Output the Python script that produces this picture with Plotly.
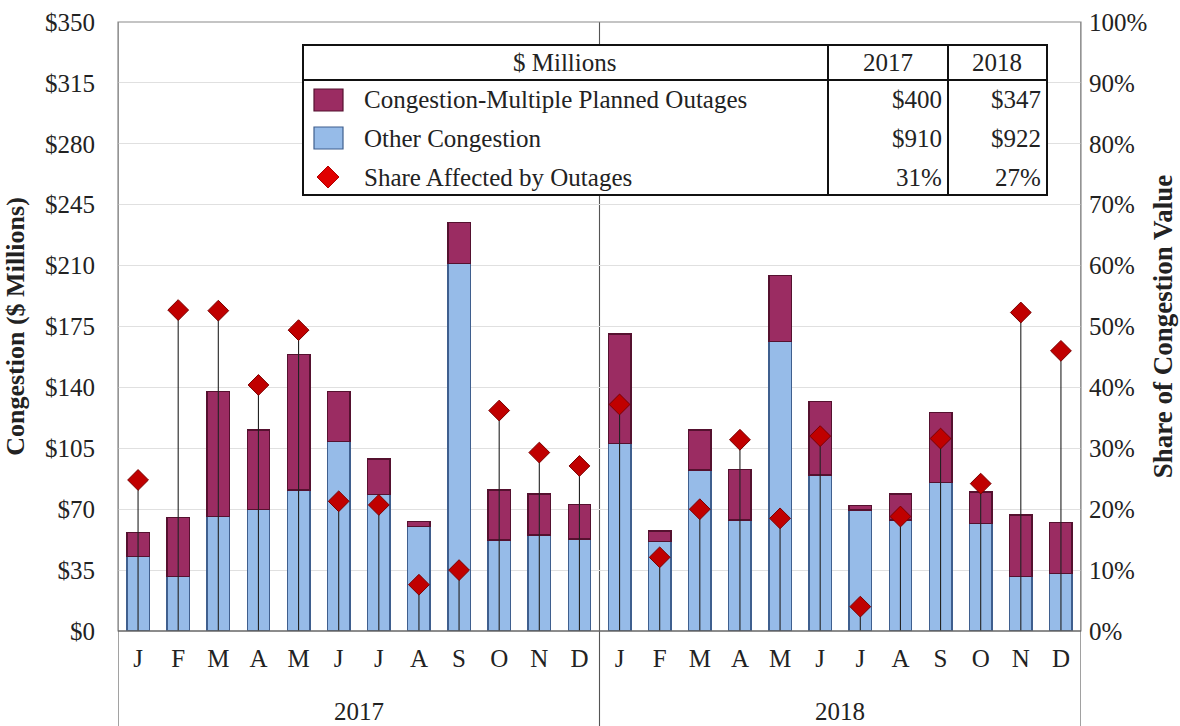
import plotly.graph_objects as go

months = ["J", "F", "M", "A", "M", "J", "J", "A", "S", "O", "N", "D"]
years = ["2017", "2018"]
tick_labels = months + months

other_congestion = [42.7, 31.2, 65.7, 69.9, 81.0, 108.8, 78.5, 60.0, 211.3, 52.3, 55.2, 52.9,
                    107.9, 51.3, 92.5, 63.8, 166.3, 89.7, 69.5, 63.8, 85.4, 61.9, 31.2, 33.1]
outage_congestion = [13.8, 34.1, 71.8, 45.6, 78.0, 28.7, 20.4, 2.8, 23.4, 28.7, 23.5, 19.9,
                     62.8, 6.2, 23.0, 29.1, 38.1, 42.1, 2.5, 14.9, 40.3, 18.1, 35.5, 29.1]
share_affected = [0.248, 0.527, 0.526, 0.404, 0.494, 0.213, 0.207, 0.076, 0.100, 0.362, 0.293, 0.271,
                  0.372, 0.121, 0.200, 0.314, 0.185, 0.320, 0.040, 0.188, 0.316, 0.242, 0.523, 0.460]

legend_names = ["Congestion-Multiple Planned Outages", "Other Congestion", "Share Affected by Outages"]
totals_2017 = ["$400", "$910", "31%"]
totals_2018 = ["$347", "$922", "27%"]

FONT = "Liberation Serif"
FS = 25
BLUE = "#96bbe8"
BLUE_EDGE = "#3f5f8e"
MAROON = "#9b2c62"
MAROON_EDGE = "#55112f"

x = list(range(len(tick_labels)))

fig = go.Figure()
fig.add_trace(go.Bar(x=x, y=other_congestion, marker=dict(color=BLUE, line=dict(color=BLUE_EDGE, width=1.4)),
                     width=0.56, name=legend_names[1], showlegend=False))
fig.add_trace(go.Bar(x=x, y=outage_congestion, marker=dict(color=MAROON, line=dict(color=MAROON_EDGE, width=1.4)),
                     width=0.56, name=legend_names[0], showlegend=False))
fig.add_trace(go.Scatter(x=x, y=share_affected, yaxis="y2", mode="markers",
                         marker=dict(symbol="diamond", size=16, color="#c00000",
                                     line=dict(color="#7a0000", width=1)),
                         error_y=dict(type="data", symmetric=False, array=[0] * len(x),
                                      arrayminus=share_affected, color="#222222", thickness=1.1, width=0),
                         name=legend_names[2], showlegend=False))

W, H = 1180, 726
L, R, T, B = 118, 1081, 22, 631


def px(v):
    return (v - L) / (R - L)


def py(v):
    return (B - v) / (B - T)


fig.update_layout(
    width=W, height=H, barmode="stack", plot_bgcolor="white", paper_bgcolor="white",
    margin=dict(l=L, r=W - R, t=T, b=H - B, autoexpand=False),
    font=dict(family=FONT, size=FS, color="#222222"),
    xaxis=dict(range=[-0.5, 23.5], tickmode="array", tickvals=x, ticktext=tick_labels, automargin=False,
               showgrid=False, showline=False, zeroline=False, ticks="", ticklabelstandoff=10,
               tickfont=dict(size=FS, family=FONT)),
    yaxis=dict(range=[0, 350], dtick=35, tickprefix="$", showgrid=True, gridcolor="#e0e0e0", automargin=False,
               zeroline=False, showline=False, ticks="", ticklabelstandoff=22,
               title=dict(text="<b>Congestion ($ Millions)</b>", font=dict(size=26, family=FONT), standoff=12),
               tickfont=dict(size=FS, family=FONT)),
    yaxis2=dict(range=[0, 1], dtick=0.1, tickformat=".0%", overlaying="y", side="right", automargin=False,
                showgrid=False, zeroline=False, showline=False, ticks="", ticklabelstandoff=7,
                title=dict(text="<b>Share of Congestion Value</b>", font=dict(size=27, family=FONT), standoff=6),
                tickfont=dict(size=FS, family=FONT)),
)

shapes = []
# plot frame
shapes.append(dict(type="rect", xref="paper", yref="paper", x0=0, x1=1, y0=0, y1=1,
                   line=dict(color="#8a8a8a", width=1.2), layer="above"))
# baseline
shapes.append(dict(type="line", xref="paper", yref="paper", x0=0, x1=1, y0=0, y1=0,
                   line=dict(color="#555555", width=1.2), layer="above"))
# vertical separators extending below axis
for xv in [-0.5, 11.5, 23.5]:
    shapes.append(dict(type="line", xref="x", yref="paper", x0=xv, x1=xv, y0=py(H), y1=1,
                       line=dict(color="#555555", width=1.1), layer="below"))

# legend table
tl, tr, tt, tb = 303, 1047, 45, 195
shapes.append(dict(type="rect", xref="paper", yref="paper", x0=px(tl), x1=px(tr), y0=py(tb), y1=py(tt),
                   line=dict(color="#111111", width=2), fillcolor="white", layer="above"))
shapes.append(dict(type="line", xref="paper", yref="paper", x0=px(tl), x1=px(tr), y0=py(80), y1=py(80),
                   line=dict(color="#111111", width=2), layer="above"))
for xv in [828, 948]:
    shapes.append(dict(type="line", xref="paper", yref="paper", x0=px(xv), x1=px(xv), y0=py(tb), y1=py(tt),
                       line=dict(color="#111111", width=2), layer="above"))
row_y = [100, 138, 177]
shapes.append(dict(type="rect", xref="paper", yref="paper", x0=px(314), x1=px(343),
                   y0=py(row_y[0] + 11), y1=py(row_y[0] - 11),
                   fillcolor=MAROON, line=dict(color=MAROON_EDGE, width=1.2), layer="above"))
shapes.append(dict(type="rect", xref="paper", yref="paper", x0=px(314), x1=px(343),
                   y0=py(row_y[1] + 11), y1=py(row_y[1] - 11),
                   fillcolor=BLUE, line=dict(color=BLUE_EDGE, width=1.2), layer="above"))
cx, cy, d = 328, row_y[2], 11
shapes.append(dict(type="path", xref="paper", yref="paper",
                   path=f"M {px(cx - d)} {py(cy)} L {px(cx)} {py(cy - d)} L {px(cx + d)} {py(cy)} L {px(cx)} {py(cy + d)} Z",
                   fillcolor="#e00000", line=dict(color="#b00000", width=1), layer="above"))

annotations = []
annotations.append(dict(xref="paper", yref="paper", x=px(565), y=py(62), text="$ Millions", showarrow=False,
                        xanchor="center", yanchor="middle", font=dict(size=FS, family=FONT)))
annotations.append(dict(xref="paper", yref="paper", x=px(888), y=py(62), text=years[0], showarrow=False,
                        xanchor="center", yanchor="middle", font=dict(size=FS, family=FONT)))
annotations.append(dict(xref="paper", yref="paper", x=px(997), y=py(62), text=years[1], showarrow=False,
                        xanchor="center", yanchor="middle", font=dict(size=FS, family=FONT)))
for i, name in enumerate(legend_names):
    annotations.append(dict(xref="paper", yref="paper", x=px(362), y=py(row_y[i]), text=name, showarrow=False,
                            xanchor="left", yanchor="middle", font=dict(size=FS, family=FONT)))
    annotations.append(dict(xref="paper", yref="paper", x=px(944), y=py(row_y[i]), text=totals_2017[i],
                            showarrow=False, xanchor="right", yanchor="middle", font=dict(size=FS, family=FONT)))
    annotations.append(dict(xref="paper", yref="paper", x=px(1043), y=py(row_y[i]), text=totals_2018[i],
                            showarrow=False, xanchor="right", yanchor="middle", font=dict(size=FS, family=FONT)))
# year labels
for i, yr in enumerate(years):
    annotations.append(dict(xref="x", yref="paper", x=5.5 + 12 * i, y=py(711), text=yr, showarrow=False,
                            xanchor="center", yanchor="middle", font=dict(size=FS, family=FONT)))

fig.update_layout(shapes=shapes, annotations=annotations)
fig.write_html("out.html", config={"displayModeBar": False},
               post_script="document.body.style.margin='0';document.body.style.overflow='hidden';")
